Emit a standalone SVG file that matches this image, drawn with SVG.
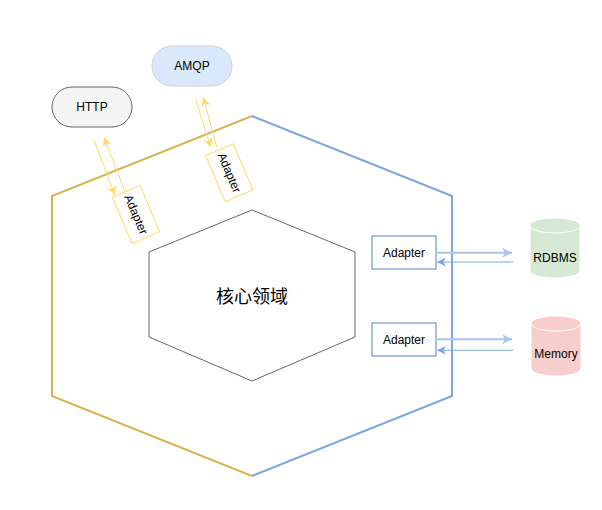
<svg xmlns="http://www.w3.org/2000/svg" width="602" height="510" viewBox="0 0 602 510">
<defs>
<style>
.t{font-family:"Liberation Sans",Arial,sans-serif;font-size:12px;fill:#000;text-anchor:middle}
.cjk{font-family:"Liberation Sans","Noto Sans CJK SC",sans-serif;font-size:18px;fill:#000;text-anchor:middle}
.ya{fill:#fff;stroke:#ffd966;stroke-width:1}
.yl{stroke:#ffd966;stroke-width:1;fill:none;marker-end:url(#my)}
.bl1{stroke:#a9c4eb;stroke-width:2;fill:none;marker-end:url(#mb1)}
.bl2{stroke:#7ea6e0;stroke-width:1;fill:none;marker-end:url(#mb2)}
.ra{fill:#fff;stroke:#4c82d8;stroke-width:1}
</style>
<marker id="my" markerUnits="userSpaceOnUse" viewBox="0 0 10 10" refX="10" refY="5" markerWidth="9" markerHeight="9" orient="auto"><path d="M0,0 L10,5 L0,10 L3,5 z" fill="#ffd966"/></marker>
<marker id="mb1" markerUnits="userSpaceOnUse" viewBox="0 0 10 10" refX="10" refY="5" markerWidth="10" markerHeight="10" orient="auto"><path d="M0,0 L10,5 L0,10 L3,5 z" fill="#a9c4eb"/></marker>
<marker id="mb2" markerUnits="userSpaceOnUse" viewBox="0 0 10 10" refX="10" refY="5" markerWidth="9" markerHeight="9" orient="auto"><path d="M0,0 L10,5 L0,10 L3,5 z" fill="#7ea6e0"/></marker>
</defs>
<rect width="602" height="510" fill="#fff"/>
<g id="outer-hex">
<polyline points="252,116 52,196 52,396 252,476" fill="none" stroke="#d6b656" stroke-width="2"/>
<polyline points="252,116 452,196 452,396 252,476" fill="none" stroke="#7ea6e0" stroke-width="2"/>
</g>
<g id="core">
<polygon points="252,210 355,252 355,337 252,381 149,337 149,252" fill="#fff" stroke="#666" stroke-width="1"/>
<text class="cjk" x="252" y="303">核心领域</text>
</g>
<g id="http">
<rect x="52" y="87" width="80" height="40" rx="20" fill="#f5f5f5" stroke="#666"/>
<text class="t" x="92" y="111">HTTP</text>
</g>
<g id="amqp">
<rect x="152" y="46" width="80" height="40" rx="20" fill="#dae8fc" stroke="#c9d1dc"/>
<text class="t" x="192" y="70">AMQP</text>
</g>
<g id="http-adapter" transform="translate(136,214.5) rotate(67)">
<rect class="ya" x="-25" y="-15" width="50" height="30"/>
<text class="t" x="0" y="4">Adapter</text>
</g>
<g id="amqp-adapter" transform="translate(229.3,172.7) rotate(67)">
<rect class="ya" x="-25" y="-15" width="50" height="30"/>
<text class="t" x="0" y="4">Adapter</text>
</g>
<g id="rdbms-adapter">
<rect class="ra" x="372" y="236" width="64" height="33"/>
<text class="t" x="404" y="257">Adapter</text>
</g>
<g id="memory-adapter">
<rect class="ra" x="372" y="323" width="64" height="33"/>
<text class="t" x="404" y="344">Adapter</text>
</g>
<g id="rdbms">
<path d="M530,225.5 a25,7.5 0 0 1 50,0 v45 a25,7.5 0 0 1 -50,0 z" fill="#d5e8d4" stroke="#fff"/>
<path d="M530,225.5 a25,7.5 0 0 0 50,0" fill="none" stroke="#fff"/>
<text class="t" x="555" y="262">RDBMS</text>
</g>
<g id="memory">
<path d="M531,323.5 a25,7.5 0 0 1 50,0 v45 a25,7.5 0 0 1 -50,0 z" fill="#f8cecc" stroke="#fff"/>
<path d="M531,323.5 a25,7.5 0 0 0 50,0" fill="none" stroke="#fff"/>
<text class="t" x="556" y="358">Memory</text>
</g>
<g id="connectors">
<line class="yl" x1="94" y1="140" x2="115" y2="195"/>
<line class="yl" x1="125" y1="191.7" x2="104" y2="137.3"/>
<line class="yl" x1="195.7" y1="99.3" x2="210.7" y2="147.3"/>
<line class="yl" x1="216.7" y1="146.7" x2="203.3" y2="97.3"/>
<line class="bl1" x1="436" y1="252.7" x2="512" y2="252.7"/>
<line class="bl2" x1="513" y1="262" x2="437" y2="262"/>
<line class="bl1" x1="436" y1="339.3" x2="512" y2="339.3"/>
<line class="bl2" x1="513" y1="350.3" x2="437" y2="350.3"/>
</g>
</svg>
